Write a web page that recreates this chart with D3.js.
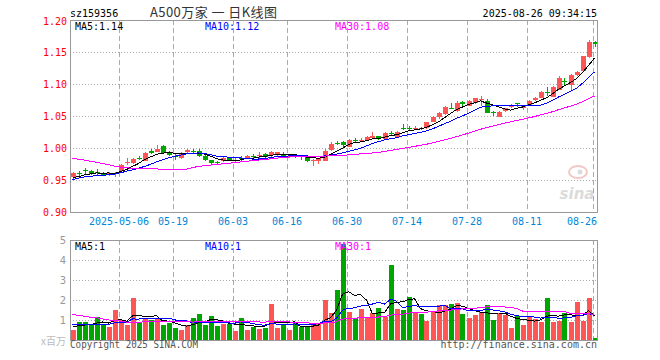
<!DOCTYPE html>
<meta charset="utf-8">
<style>
body { margin: 0; background: #fff; }
svg { display: block; }
text { font-family: "DejaVu Sans Mono", monospace; font-size: 10px; }
.grid { stroke: #aaa; stroke-width: 1px; fill: none; shape-rendering: crispEdges; }
.frame { stroke: #999; stroke-width: 1px; fill: none; shape-rendering: crispEdges; }
.ma { fill: none; stroke-width: 1px; shape-rendering: crispEdges; }
</style>

<svg width="660" height="360"></svg>
<script src="https://d3js.org/d3.v7.min.js"></script>
<script>

// trading days shown (2025)
var dates = ["04-21","04-22","04-23","04-24","04-25","04-28","04-29","04-30",
  "05-06","05-07","05-08","05-09","05-12","05-13","05-14","05-15","05-16",
  "05-19","05-20","05-21","05-22","05-23","05-26","05-27","05-28","05-29","05-30",
  "06-03","06-04","06-05","06-06","06-09","06-10","06-11","06-12","06-13",
  "06-16","06-17","06-18","06-19","06-20","06-23","06-24","06-25","06-26","06-27",
  "06-30","07-01","07-02","07-03","07-04","07-07","07-08","07-09","07-10","07-11",
  "07-14","07-15","07-16","07-17","07-18","07-21","07-22","07-23","07-24","07-25",
  "07-28","07-29","07-30","07-31","08-01","08-04","08-05","08-06","08-07","08-08",
  "08-11","08-12","08-13","08-14","08-15","08-18","08-19","08-20","08-21","08-22",
  "08-25","08-26"];

var open = [0.954,0.961,0.965,0.964,0.963,0.960,0.959,0.959,0.963,0.976,
  0.977,0.985,0.980,0.996,0.995,1.003,0.994,0.987,0.984,0.994,
  0.996,0.996,0.988,0.981,0.978,0.980,0.985,0.980,0.984,0.984,
  0.988,0.988,0.991,0.988,0.988,0.991,0.987,0.989,0.987,0.986,
  0.981,0.979,0.981,0.997,1.008,1.009,1.002,1.013,1.011,1.0125,
  1.015,1.018,1.015,1.024,1.018,1.032,1.032,1.030,1.031,1.031,
  1.041,1.047,1.053,1.063,1.058,1.0725,1.066,1.069,1.074,1.074,
  1.056,1.049,1.057,1.064,1.070,1.062,1.067,1.074,1.079,1.088,
  1.080,1.092,1.105,1.0985,1.114,1.119,1.142,1.1655];
var high = [0.963,0.964,0.969,0.966,0.967,0.963,0.963,0.962,0.975,0.984,
  0.985,0.988,0.993,0.998,1.004,1.004,0.995,0.990,0.993,0.998,
  0.999,0.999,0.990,0.982,0.980,0.986,0.986,0.985,0.987,0.989,
  0.990,0.993,0.992,0.995,0.994,0.993,0.990,0.991,0.989,0.987,
  0.983,0.985,0.999,1.010,1.011,1.011,1.014,1.016,1.015,1.018,
  1.025,1.019,1.025,1.027,1.027,1.038,1.034,1.035,1.033,1.041,
  1.050,1.056,1.066,1.070,1.073,1.074,1.075,1.078,1.082,1.076,
  1.058,1.058,1.063,1.068,1.071,1.066,1.075,1.079,1.089,1.095,
  1.097,1.112,1.109,1.116,1.120,1.144,1.169,1.167];
var low = [0.952,0.956,0.960,0.958,0.958,0.956,0.957,0.955,0.962,0.973,
  0.975,0.981,0.979,0.990,0.993,0.991,0.987,0.982,0.983,0.992,
  0.992,0.986,0.980,0.973,0.974,0.978,0.979,0.978,0.979,0.983,
  0.985,0.985,0.984,0.984,0.986,0.985,0.985,0.984,0.982,0.978,
  0.972,0.975,0.980,0.995,1.004,1.000,1.001,1.009,1.009,1.011,
  1.014,1.013,1.014,1.018,1.016,1.028,1.028,1.029,1.028,1.030,
  1.040,1.046,1.052,1.061,1.057,1.066,1.065,1.068,1.065,1.054,
  1.050,1.048,1.056,1.062,1.064,1.060,1.066,1.073,1.078,1.082,
  1.079,1.091,1.099,1.090,1.113,1.118,1.141,1.158];
var close = [0.961,0.959,0.964,0.959,0.962,0.959,0.961,0.961,0.973,0.978,
  0.983,0.984,0.992,0.993,0.999,0.992,0.989,0.986,0.992,0.997,
  0.995,0.988,0.981,0.976,0.977,0.985,0.980,0.982,0.983,0.988,
  0.987,0.989,0.986,0.993,0.993,0.986,0.988,0.988,0.986,0.980,
  0.982,0.984,0.996,1.007,1.007,1.004,1.0125,1.012,1.012,1.0167,
  1.018,1.014,1.024,1.023,1.0255,1.031,1.031,1.031,1.030,1.040,
  1.049,1.054,1.0645,1.062,1.071,1.069,1.074,1.0775,1.076,1.055,
  1.055,1.057,1.062,1.067,1.069,1.065,1.074,1.0775,1.088,1.0875,
  1.096,1.110,1.104,1.114,1.118,1.143,1.1655,1.163];
// volume, 百万
var vol = [0.5,0.92,0.92,0.75,1.13,0.78,0.67,1.5,1.0,0.75,
  2.1,0.87,1.08,1.0,1.08,0.75,0.83,0.62,0.5,0.75,
  1.12,1.3,0.75,1.2,0.7,0.8,0.8,0.47,1.12,0.5,
  0.67,0.57,0.62,1.82,0.62,0.78,0.5,0.83,0.67,0.7,
  0.75,0.78,2.0,1.37,2.5,4.8,1.42,1.08,1.55,1.13,
  1.37,1.62,1.13,3.75,1.55,1.5,2.17,1.33,1.3,0.97,
  1.42,1.75,1.75,1.8,1.87,1.3,1.12,1.25,1.42,1.75,
  1.0,1.33,1.25,0.62,1.2,0.75,1.13,1.03,0.92,2.12,
  0.92,0.97,1.37,0.92,1.92,0.97,2.12,0.12];

// the 29 sessions before the window, only used for the moving averages
var prevClose = [1.005,1.004,1.010,1.006,1.020,1.022,1.020,1.021,1.016,1.002,
  0.998,1.000,1.002,1.002,0.995,0.990,0.993,0.994,0.989,
  0.925,0.932,0.945,0.950,0.951,0.955,0.953,0.950,0.952,0.954];
var prevVol = [2.4,2.1,2.3,2.0,2.5,2.2,2.0,2.3,2.1,2.5,
  0.7,0.6,0.6,0.7,0.6,0.7,0.6,0.6,0.6,
  2.5,1.0,0.9,0.9,0.8,0.8,0.8,0.7,0.7,0.7];

var tickDays = ["05-06","05-19","06-03","06-16","06-30","07-14","07-28","08-11","08-26"];
var priceTicks = [0.90,0.95,1.00,1.05,1.10,1.15,1.20];
var volTicks = [1,2,3,4,5];
var maDays = [5,10,30];
var maColors = ["#000","#0000ff","#ff00ff"];

var RED = "#ff5555", GREEN = "#00a600";

var svg = d3.select("svg"),
    left = 70, right = 597,
    pTop = 20, pBot = 212,
    vTop = 240, vBot = 340;

var n = close.length;
var x = d3.scaleLinear().domain([0, n - 1]).range([72.5, 594.5]);
var y = d3.scaleLinear().domain([0.90, 1.20]).range([pBot, pTop]);
var yv = d3.scaleLinear().domain([0, 5]).range([vBot, vTop]);

function movingAvg(prev, cur, k) {
  var all = prev.concat(cur), off = prev.length;
  return d3.range(cur.length).map(function(i) {
    return d3.mean(all.slice(i + off - k + 1, i + off + 1));
  });
}

var up = function(i) { return close[i] >= open[i]; };

// ---- grid ----
var g = svg.append("g");
tickDays.forEach(function(d) {
  var gx = Math.round(x(dates.indexOf(d)) - 1.5) + 0.5;
  [[pTop, pBot], [vTop, vBot]].forEach(function(r) {
    g.append("line").attr("class", "grid").attr("stroke-dasharray", "5,3")
      .attr("x1", gx).attr("x2", gx).attr("y1", r[0]).attr("y2", r[1]);
  });
});
priceTicks.slice(1, -1).forEach(function(t) {
  g.append("line").attr("class", "grid").attr("stroke-dasharray", "1,2")
    .attr("x1", left).attr("x2", right).attr("y1", Math.round(y(t)) + 0.5).attr("y2", Math.round(y(t)) + 0.5);
});
volTicks.slice(0, -1).forEach(function(t) {
  g.append("line").attr("class", "grid").attr("stroke-dasharray", "1,2")
    .attr("x1", left).attr("x2", right).attr("y1", yv(t) + 0.5).attr("y2", yv(t) + 0.5);
});

// ---- candles ----
var c = svg.append("g").selectAll("g").data(d3.range(n)).enter().append("g")
  .attr("fill", function(i) { return up(i) ? RED : GREEN; })
  .attr("stroke", function(i) { return up(i) ? RED : GREEN; })
  .attr("shape-rendering", "crispEdges");
c.append("line")
  .attr("x1", function(i) { return Math.round(x(i)) + 0.5; })
  .attr("x2", function(i) { return Math.round(x(i)) + 0.5; })
  .attr("y1", function(i) { return y(high[i]); })
  .attr("y2", function(i) { return y(low[i]); });
c.append("rect").attr("stroke", "none")
  .attr("x", function(i) { return Math.round(x(i)) - 2; })
  .attr("width", 5)
  .attr("y", function(i) { return Math.round(y(Math.max(open[i], close[i]))); })
  .attr("height", function(i) { return Math.max(1, Math.round(Math.abs(y(open[i]) - y(close[i])))); });

// ---- volume bars ----
svg.append("g").selectAll("rect").data(d3.range(n)).enter().append("rect")
  .attr("shape-rendering", "crispEdges")
  .attr("fill", function(i) { return up(i) ? RED : GREEN; })
  .attr("x", function(i) { return Math.round(x(i)) - 2; })
  .attr("width", 5)
  .attr("y", function(i) { return Math.round(yv(vol[i])); })
  .attr("height", function(i) { return vBot - Math.round(yv(vol[i])); });

// ---- moving averages ----
var pMA = maDays.map(function(k) { return movingAvg(prevClose, close, k); });
var vMA = maDays.map(function(k) { return movingAvg(prevVol, vol, k); });
var line = function(sc) {
  return d3.line().x(function(d, i) { return x(i); }).y(function(d) { return sc(d); });
};
maDays.forEach(function(k, j) {
  svg.append("path").attr("class", "ma").attr("stroke", maColors[j]).attr("d", line(y)(pMA[j]));
  svg.append("path").attr("class", "ma").attr("stroke", maColors[j]).attr("d", line(yv)(vMA[j]));
});

// ---- frames ----
svg.append("rect").attr("class", "frame").attr("x", left + 0.5).attr("y", pTop + 0.5)
  .attr("width", right - left).attr("height", pBot - pTop);
svg.append("rect").attr("class", "frame").attr("x", left + 0.5).attr("y", vTop + 0.5)
  .attr("width", right - left).attr("height", vBot - vTop);

// ---- labels ----
svg.append("g").selectAll("text").data(priceTicks).enter().append("text")
  .attr("x", 67).attr("text-anchor", "end").attr("fill", "#ff0000")
  .attr("y", function(t) { return Math.max(y(t) + 4, 25); })
  .text(function(t) { return t.toFixed(2); });

svg.append("g").selectAll("text").data(tickDays).enter().append("text")
  .attr("fill", "#0087d8").attr("y", 225)
  .attr("text-anchor", function(d, i) { return i === tickDays.length - 1 ? "end" : "middle"; })
  .attr("x", function(d, i) {
    return i === tickDays.length - 1 ? right : Math.round(x(dates.indexOf(d)) - 1.5);
  })
  .text(function(d, i) { return i === 0 ? "2025-" + d : d; });

svg.append("g").selectAll("text").data(volTicks).enter().append("text")
  .attr("x", 66).attr("text-anchor", "end").attr("fill", "#999")
  .style("font-family", "'DejaVu Sans', sans-serif").style("font-size", "10px")
  .attr("y", function(t) { return yv(t) + 4; })
  .text(function(t) { return t; });
svg.append("text").attr("x", 66).attr("y", 345).attr("text-anchor", "end").attr("fill", "#bbb")
  .style("font-family", "'Noto Sans CJK SC', sans-serif").text("x百万");

var lastP = pMA.map(function(a) { return a[n - 1]; });
var lastV = vMA.map(function(a) { return a[n - 1]; });
[75, 205, 335].forEach(function(lx, j) {
  svg.append("text").attr("x", lx).attr("y", 30).attr("fill", maColors[j])
    .text("MA" + maDays[j] + ":" + lastP[j].toFixed(2));
  svg.append("text").attr("x", lx).attr("y", 250).attr("fill", maColors[j])
    .text("MA" + maDays[j] + ":" + Math.round(lastV[j]));
});

svg.append("text").attr("x", 70).attr("y", 16.5).attr("fill", "#000").text("sz159356");
svg.append("text").attr("x", 150).attr("y", 17).attr("fill", "#333")
  .style("font-family", "'Noto Sans CJK SC', sans-serif").style("font-size", "13px")
  .attr("textLength", 127).attr("lengthAdjust", "spacing")
  .text("A500万家 一 日K线图");
svg.append("text").attr("x", right).attr("y", 16.5).attr("text-anchor", "end").attr("fill", "#000")
  .text("2025-08-26 09:34:15");

svg.append("text").attr("x", 70).attr("y", 348).attr("fill", "#555")
  .attr("textLength", 128).attr("lengthAdjust", "spacingAndGlyphs").text("Copyright 2025 SINA.COM");
svg.append("text").attr("x", right).attr("y", 348).attr("text-anchor", "end").attr("fill", "#555")
  .text("http://finance.sina.com.cn");

// sina watermark
var wm = svg.append("g").attr("opacity", 0.35);
wm.append("ellipse").attr("cx", 578).attr("cy", 172).attr("rx", 9).attr("ry", 6)
  .attr("fill", "none").attr("stroke", "#e06060").attr("stroke-width", 2);
wm.append("circle").attr("cx", 580).attr("cy", 172).attr("r", 2.5).attr("fill", "#999");
wm.append("text").attr("x", 577).attr("y", 199).attr("text-anchor", "middle").attr("fill", "#999")
  .style("font-family", "'DejaVu Sans', sans-serif").style("font-size", "15px")
  .style("font-style", "italic").style("font-weight", "bold").text("sina");

</script>
